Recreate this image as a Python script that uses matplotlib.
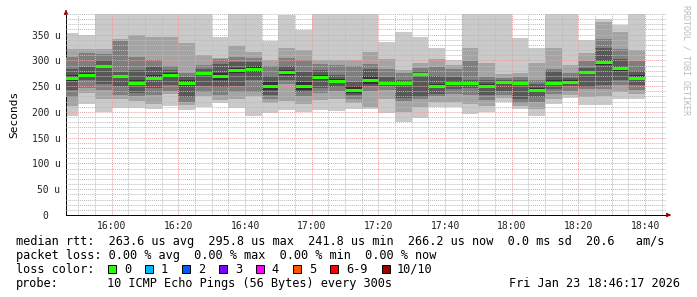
import matplotlib
matplotlib.use("Agg")
import matplotlib.pyplot as plt
import numpy as np

W, H = 697, 297

# ---- data (values in microseconds) ----
bar_start = ["15:45", "15:50", "15:55", "16:00", "16:05", "16:10", "16:15", "16:20", "16:25", "16:30",
             "16:35", "16:40", "16:45", "16:50", "16:55", "17:00", "17:05", "17:10", "17:15", "17:20",
             "17:25", "17:30", "17:35", "17:40", "17:45", "17:50", "17:55", "18:00", "18:05", "18:10",
             "18:15", "18:20", "18:25", "18:30", "18:35"]

p1 = [193, 215, 200, 207, 208, 205, 211, 204, 210, 217, 208, 192, 197, 203, 199, 204, 202, 206, 205, 198,
      181, 188, 210, 210, 196, 199, 220, 205, 193, 215, 227, 214, 214, 225, 226]
p2 = [212, 236, 225, 226, 222, 216, 234, 213, 230, 223, 225, 230, 218, 222, 215, 223, 225, 218, 210, 226,
      200, 210, 220, 220, 215, 212, 227, 212, 205, 225, 233, 228, 230, 238, 234]
p3 = [229, 247, 243, 232, 230, 232, 240, 220, 238, 233, 238, 238, 225, 255, 230, 236, 240, 226, 240, 242,
      222, 225, 230, 235, 232, 223, 233, 218, 220, 235, 240, 245, 244, 252, 243]
p4 = [243, 262, 255, 250, 237, 247, 252, 228, 250, 248, 250, 262, 233, 262, 238, 246, 249, 233, 250, 250,
      227, 228, 235, 245, 246, 232, 240, 225, 228, 245, 250, 249, 252, 262, 252]
p5 = [260, 268, 286, 268, 252, 262, 268, 250, 271, 262, 275, 278, 242, 272, 242, 262, 256, 237, 254, 254,
      254, 270, 247, 254, 253, 248, 256, 252, 240, 254, 255, 274, 292, 280, 262]
p6 = [272, 276, 292, 272, 262, 272, 276, 262, 279, 275, 285, 290, 258, 282, 258, 272, 264, 250, 270, 260,
      258, 276, 254, 260, 258, 254, 260, 258, 246, 262, 261, 280, 300, 290, 272]
p7 = [283, 287, 300, 277, 282, 288, 282, 268, 284, 293, 296, 296, 270, 290, 278, 282, 272, 259, 283, 268,
      262, 280, 270, 268, 262, 262, 262, 262, 255, 280, 266, 285, 324, 302, 280]
p8 = [307, 314, 312, 338, 307, 300, 290, 275, 291, 302, 307, 304, 290, 305, 300, 293, 292, 290, 293, 283,
      275, 285, 288, 283, 298, 268, 266, 268, 262, 283, 275, 298, 341, 322, 299]
p9 = [322, 322, 322, 342, 350, 346, 345, 333, 310, 304, 328, 317, 301, 325, 320, 301, 301, 301, 317, 302,
      282, 294, 302, 292, 324, 294, 274, 276, 294, 325, 291, 314, 375, 356, 320]
p10 = [353, 350, 395, 395, 395, 395, 395, 395, 395, 346, 395, 395, 338, 388, 358, 395, 395, 395, 395, 336,
       356, 346, 324, 301, 395, 395, 395, 343, 325, 395, 395, 340, 380, 369, 395]
median = [266, 272, 289, 270, 256, 266, 272, 257, 275, 269, 281, 284, 250, 277, 250, 267, 260, 242, 261, 257,
          256, 274, 251, 257, 256, 251, 259, 256, 243, 257, 258, 277, 296, 285, 266]

ytick_vals = [0, 50, 100, 150, 200, 250, 300, 350]
ytick_labels = ["0  ", "50 u", "100 u", "150 u", "200 u", "250 u", "300 u", "350 u"]
xtick_labels = ["16:00", "16:20", "16:40", "17:00", "17:20", "17:40", "18:00", "18:20", "18:40"]

legend_lines = [
    "median rtt:  263.6 us avg  295.8 us max  241.8 us min  266.2 us now  0.0 ms sd  20.6   am/s",
    "packet loss: 0.00 % avg  0.00 % max  0.00 % min  0.00 % now",
]
loss_labels = ["0", "1", "2", "3", "4", "5", "6-9", "10/10"]
loss_colors = ["#26ff00", "#00b8ff", "#0059ff", "#7e00ff", "#ff00ff", "#ff5500", "#ff0000", "#a10000"]
probe_text = "10 ICMP Echo Pings (56 Bytes) every 300s"
date_text = "Fri Jan 23 18:46:17 2026"


def tmin(s):
    h, m = s.split(":")
    return int(h) * 60 + int(m)


starts = np.array([tmin(s) for s in bar_start], dtype=float)
step = 5.0
x_start = tmin("15:46") + 17 / 60
x_end = x_start + 180

pings = np.array([p1, p2, p3, p4, p5, p6, p7, p8, p9, p10], dtype=float)
shades = ["#cacaca", "#a4a4a4", "#7e7e7e", "#585858", "#323232"]

mono = "DejaVu Sans Mono"
fig = plt.figure(figsize=(W / 100, H / 100), dpi=100)
fig.patch.set_facecolor("white")

L, R, T, B = 66, 666, 14, 215
ax = fig.add_axes([L / W, 1 - B / H, (R - L) / W, (B - T) / H])
ax.set_xlim(x_start, x_end)
ax.set_ylim(0, 390)

for i in range(5):
    lo = pings[i]
    hi = pings[9 - i]
    ax.bar(starts, hi - lo, bottom=lo, width=step, align="edge", color=shades[i],
           linewidth=0, zorder=1 + i)

ax.hlines(median, starts, starts + step, colors="#26ff00", linewidth=2.2, zorder=10)

# grid
minor_y = np.arange(10, 391, 10)
for y in minor_y:
    if y % 50:
        ax.axhline(y, color="#bbbbbb", lw=0.7, ls=(0, (1, 1)), zorder=8)
for y in ytick_vals[1:]:
    ax.axhline(y, color="#e8a0a0", lw=0.7, ls=(0, (1, 1)), zorder=9)
xt = [tmin(s) for s in xtick_labels]
for t in np.arange(tmin("15:50"), x_end, 5):
    if t not in xt:
        ax.axvline(t, color="#bbbbbb", lw=0.7, ls=(0, (1, 1)), zorder=8)
for t in xt:
    ax.axvline(t, color="#e8a0a0", lw=0.7, ls=(0, (1, 1)), zorder=9)

ax.set_yticks(ytick_vals)
ax.set_yticklabels(ytick_labels, fontfamily=mono, fontsize=6.9)
ax.set_xticks(xt)
ax.set_xticklabels(xtick_labels, fontfamily=mono, fontsize=7)
ax.tick_params(axis="both", length=0, pad=4, colors="#222222")
for sp in ["top", "right"]:
    ax.spines[sp].set_visible(False)
ax.spines["left"].set_linewidth(0.7)
ax.spines["bottom"].set_linewidth(0.7)
ax.set_ylabel("Seconds", fontfamily=mono, fontsize=8, labelpad=9)

# axis arrows
ax.annotate("", xy=(L / W, 1 - 7 / H), xytext=(L / W, 1 - 14 / H), xycoords="figure fraction",
            arrowprops=dict(arrowstyle="-|>", color="#a00000", lw=0.8, mutation_scale=6))
ax.annotate("", xy=(674 / W, 1 - B / H), xytext=(666 / W, 1 - B / H), xycoords="figure fraction",
            arrowprops=dict(arrowstyle="-|>", color="#a00000", lw=0.8, mutation_scale=6))

fig.text(686 / W, 1 - 5 / H, "RRDTOOL / TOBI OETIKER", rotation=270, fontfamily=mono,
         fontsize=6, color="#bbbbbb", va="top", ha="center")

fs = 8.55
rows = [241.7, 255.5, 269.3, 283.3]
fig.text(16 / W, 1 - rows[0] / H, legend_lines[0], fontfamily=mono, fontsize=fs, va="center")
fig.text(16 / W, 1 - rows[1] / H, legend_lines[1], fontfamily=mono, fontsize=fs, va="center")
fig.text(16 / W, 1 - rows[2] / H, "loss color:", fontfamily=mono, fontsize=fs, va="center")
box_x = [108.3, 145.3, 182.3, 219.3, 256.3, 293.3, 330.3, 381.5]
for bx, lab, col in zip(box_x, loss_labels, loss_colors):
    fig.patches.append(plt.Rectangle((bx / W, 1 - 273.3 / H), 8 / W, 8 / H, transform=fig.transFigure,
                                     facecolor=col, edgecolor="black", lw=0.7))
    fig.text((bx + 15.5) / W, 1 - rows[2] / H, lab, fontfamily=mono, fontsize=fs, va="center")
fig.text(16 / W, 1 - rows[3] / H, "probe:", fontfamily=mono, fontsize=fs, va="center")
fig.text(107.3 / W, 1 - rows[3] / H, probe_text, fontfamily=mono, fontsize=fs, va="center")
fig.text(680 / W, 1 - rows[3] / H, date_text, fontfamily=mono, fontsize=fs, va="center", ha="right")

fig.savefig("out.png", dpi=100, facecolor="white")
